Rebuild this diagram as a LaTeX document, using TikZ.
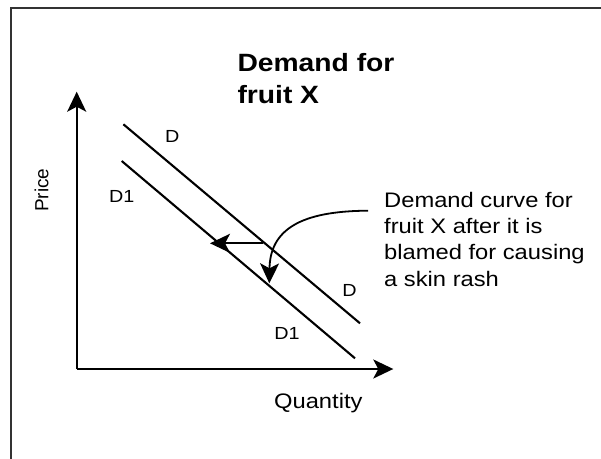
\documentclass[tikz,border=0pt]{standalone}
\usepackage{fontspec}
\setmainfont{Liberation Sans}
\newfontfamily\widefont[FakeStretch=1.13]{Liberation Sans}
\usetikzlibrary{arrows.meta}
\begin{document}
\begin{tikzpicture}[x=1pt,y=-1pt,
  frameline/.style={line width=2.2pt, draw=black!80},
  axisline/.style={line width=2.1pt, -{Stealth[length=20pt,width=19pt,inset=5pt]}},
  demandline/.style={line width=2.1pt},
  shiftarrow/.style={line width=1.8pt, -{Stealth[length=20pt,width=19pt,inset=5pt]}},
  lbl/.style={inner sep=0pt, font=\widefont\fontsize{17.5}{20}\selectfont},
  bodytext/.style={inner sep=0pt, align=left, anchor=base west, font=\widefont\fontsize{21}{26.3}\selectfont},
  titletext/.style={inner sep=0pt, align=left, anchor=base west, font=\widefont\bfseries\fontsize{25}{31.6}\selectfont}
]
\useasboundingbox (0,0) rectangle (601,458);
% frame (cut off at right and bottom)
\draw[frameline] (10.7,470) -- (10.7,8.3) -- (615,8.3);

% axes
\coordinate (O) at (76.7,369);
\coordinate (ytip) at (76.7,91.7);
\coordinate (xtip) at (393.3,369);
\draw[axisline] (O) -- (ytip);
\draw[axisline] (O) -- (xtip);

% demand curves
\coordinate (Ds) at (123.4,124.3);
\coordinate (De) at (360,323.3);
\coordinate (D1s) at (121.7,161);
\coordinate (D1e) at (355,358.3);
\draw[demandline] (Ds) -- (De);
\draw[demandline] (D1s) -- (D1e);

% shift arrows
\coordinate (hs) at (263.3,243.3);
\coordinate (he) at (210,243.3);
\draw[shiftarrow] (hs) -- (he);
\coordinate (cs) at (368,210.7);
\coordinate (ce) at (269.3,283.3);
\draw[shiftarrow] (cs) .. controls (300,211) and (270,230) .. (ce);

% labels
\node[lbl] (lD) at (172.3,136) {D};
\node[lbl] (lD1) at (121.7,196.3) {D1};
\node[lbl] (lDr) at (349.5,290.3) {D};
\node[lbl] (lD1r) at (287,333) {D1};

% multi-line nodes: base anchor sits on the last line
\node[titletext] (title) at (237.3,103.3) {Demand for\\fruit X};
\node[bodytext] (note) at (384,286) {Demand curve for\\fruit X after it is\\blamed for causing\\a skin rash};
\node[inner sep=0pt, anchor=base, font=\widefont\fontsize{21}{25}\selectfont] (qty) at (318.3,408.3) {Quantity};
\node[inner sep=0pt, rotate=90, font=\fontsize{19}{22}\selectfont] (price) at (41.7,190.3) {Price};
\end{tikzpicture}
\end{document}
